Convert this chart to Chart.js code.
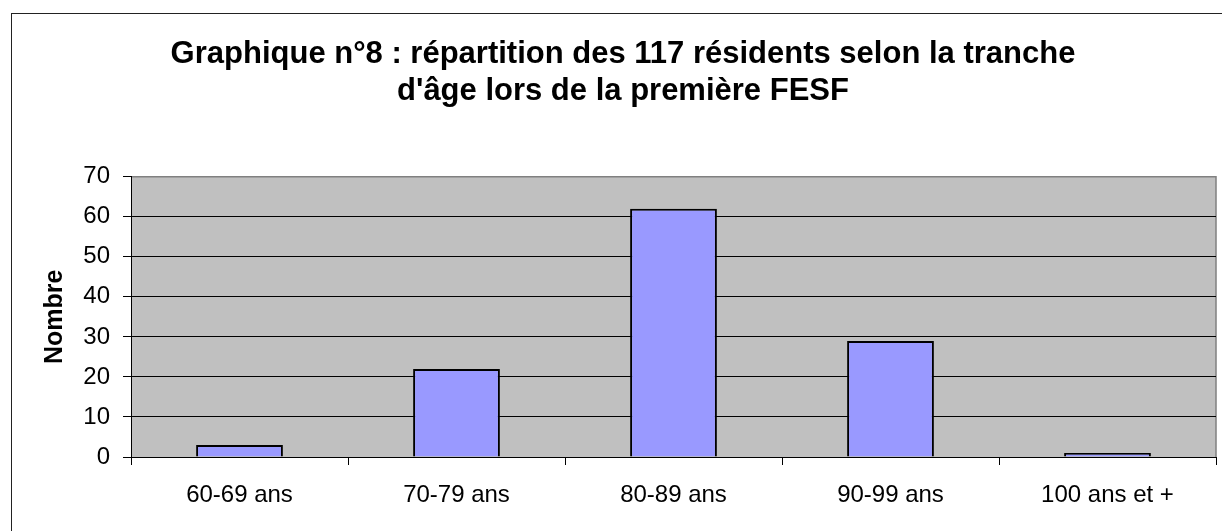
<!DOCTYPE html>
<html>
<head>
<meta charset="utf-8">
<script src="https://cdn.jsdelivr.net/npm/chart.js@4"></script>
<style>
  html, body { margin: 0; padding: 0; background: #fff; overflow: hidden; }
  #wrap { position: absolute; left: 0; top: 0; width: 1244px; height: 531px; }
</style>
</head>
<body>
<div id="wrap"><canvas id="myChart" width="1244" height="531"></canvas></div>
<script>
// age groups and number of residents
var categories = ['60-69 ans', '70-79 ans', '80-89 ans', '90-99 ans', '100 ans et +'];
var residents = [3, 22, 62, 29, 1];
var yTicks = [0, 10, 20, 30, 40, 50, 60, 70];

var titleLines = [
    'Graphique n°8 : répartition des 117 résidents selon la tranche',
    "d'âge lors de la première FESF"
];

var fontFam = 'Liberation Sans, Arial, sans-serif';

// grey plot background + outer frame
var plotBg = {
    id: 'plotBg',
    beforeDraw: function (chart) {
        var c = chart.ctx, a = chart.chartArea;
        c.save();
        c.strokeStyle = '#222';
        c.lineWidth = 1;
        c.strokeRect(11.5, 13.5, 1400, 1000);
        c.fillStyle = '#C0C0C0';
        c.fillRect(a.left, a.top, a.right - a.left, a.bottom - a.top);
        c.strokeStyle = '#808080';
        c.lineWidth = 1.5;
        c.beginPath();
        c.moveTo(a.left, a.top);
        c.lineTo(a.right, a.top);
        c.lineTo(a.right, a.bottom);
        c.stroke();
        c.restore();
    }
};

var ctx = document.getElementById('myChart');
var myChart = new Chart(ctx, {
    type: 'bar',
    data: {
        labels: categories,
        datasets: [{
            label: 'Nombre',
            data: residents,
            backgroundColor: '#9999FF',
            borderColor: '#000000',
            borderWidth: 2,
            borderSkipped: 'bottom',
            categoryPercentage: 1,
            barPercentage: 0.4
        }]
    },
    options: {
        responsive: false,
        animation: false,
        layout: { padding: { left: 30, right: 28, top: 0, bottom: 0 } },
        plugins: {
            legend: { display: false },
            tooltip: { enabled: false },
            title: {
                display: true,
                text: titleLines,
                color: '#000',
                font: { family: fontFam, size: 31, weight: 'bold', lineHeight: 1.19 },
                padding: { top: 36, bottom: 67 }
            }
        },
        scales: {
            x: {
                grid: {
                    offset: true,
                    drawOnChartArea: false,
                    drawTicks: true,
                    tickLength: 8,
                    tickColor: '#000',
                    color: '#000'
                },
                border: { color: '#000', width: 1 },
                ticks: {
                    color: '#000',
                    padding: 16,
                    font: { family: fontFam, size: 24 }
                },
                afterFit: function (axis) { axis.height = 531 - 457; }
            },
            y: {
                min: 0,
                max: 70,
                afterBuildTicks: function (axis) {
                    axis.ticks = yTicks.map(function (v) { return { value: v }; });
                },
                grid: {
                    color: function (c) { return c.tick && c.tick.value === 70 ? '#808080' : '#000'; },
                    tickColor: '#000',
                    tickLength: 8,
                    lineWidth: 1
                },
                border: { color: '#000', width: 1 },
                ticks: {
                    color: '#000',
                    padding: 13,
                    font: { family: fontFam, size: 24 }
                },
                title: {
                    display: true,
                    text: 'Nombre',
                    color: '#000',
                    padding: { top: 10, bottom: 0 },
                    font: { family: fontFam, size: 25, weight: 'bold' }
                },
                afterFit: function (axis) { axis.width = 101; }
            }
        }
    },
    plugins: [plotBg]
});
</script>
</body>
</html>
